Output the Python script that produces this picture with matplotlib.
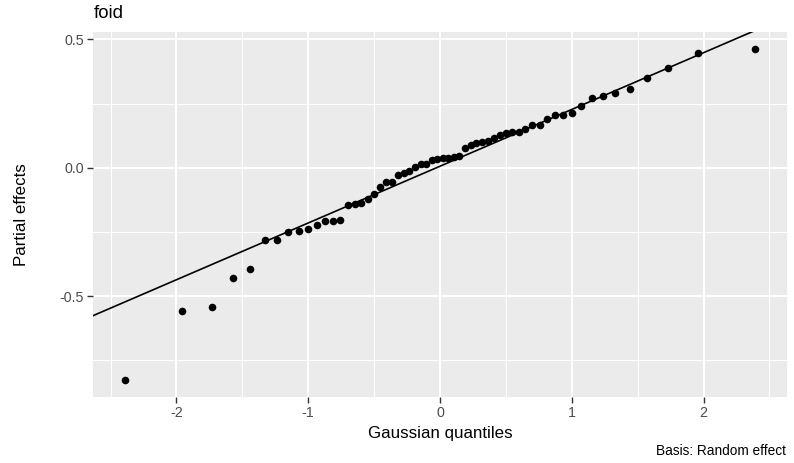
import matplotlib
matplotlib.use("Agg")
import matplotlib.pyplot as plt
from matplotlib.ticker import FixedLocator
from statistics import NormalDist

plt.rcParams['font.family'] = ['Liberation Sans', 'DejaVu Sans']

# Sorted partial effects of the random effect term "foid"
partial_effects = [
    -0.828, -0.557, -0.541, -0.431, -0.395, -0.283, -0.282, -0.251, -0.245, -0.240,
    -0.222, -0.208, -0.206, -0.205, -0.146, -0.143, -0.137, -0.121, -0.102, -0.076,
    -0.057, -0.055, -0.029, -0.020, -0.011, 0.003, 0.015, 0.016, 0.031, 0.034,
    0.037, 0.038, 0.041, 0.045, 0.076, 0.090, 0.097, 0.101, 0.106, 0.116,
    0.128, 0.137, 0.139, 0.141, 0.150, 0.165, 0.168, 0.191, 0.205, 0.205,
    0.212, 0.242, 0.272, 0.279, 0.291, 0.305, 0.349, 0.388, 0.447, 0.464,
]
# Reference line (intercept, slope)
line_intercept = 0.006
line_slope = 0.221

x_ticks = [-2, -1, 0, 1, 2]
y_ticks = [-0.5, 0.0, 0.5]
y_tick_labels = ["-0.5", "0.0", "0.5"]

# Theoretical Gaussian quantiles at plotting positions (i - 0.5) / n
n = len(partial_effects)
nd = NormalDist()
theoretical = [nd.inv_cdf((i + 0.5) / n) for i in range(n)]

fig = plt.figure(figsize=(7.94, 4.63), dpi=100)
ax = fig.add_axes([93 / 794, 1 - 397 / 463, (787 - 93) / 794, (397 - 32) / 463])

ax.set_facecolor("#EBEBEB")
for s in ax.spines.values():
    s.set_visible(False)

# Axis ranges with ggplot-style 5% expansion
xr = (min(theoretical), max(theoretical))
yr = (min(partial_effects), max(partial_effects))
xpad = 0.05 * (xr[1] - xr[0])
ypad = 0.05 * (yr[1] - yr[0])
ax.set_xlim(xr[0] - xpad, xr[1] + xpad)
ax.set_ylim(yr[0] - ypad, yr[1] + ypad)

ax.xaxis.set_major_locator(FixedLocator(x_ticks))
ax.yaxis.set_major_locator(FixedLocator(y_ticks))
ax.xaxis.set_minor_locator(FixedLocator([-2.5, -1.5, -0.5, 0.5, 1.5, 2.5]))
ax.yaxis.set_minor_locator(FixedLocator([-0.75, -0.25, 0.25]))
ax.set_yticklabels(y_tick_labels)
ax.set_xticklabels([str(t) for t in x_ticks])

ax.grid(which="major", color="white", linewidth=1.5)
ax.grid(which="minor", color="white", linewidth=0.75)
ax.set_axisbelow(True)

ax.tick_params(which="major", length=4, width=1.0, color="#333333",
               labelcolor="#4D4D4D", labelsize=10.3, pad=2.5)
ax.tick_params(which="minor", length=0)

# Reference line spanning the panel
x0, x1 = ax.get_xlim()
ax.plot([x0, x1], [line_intercept + line_slope * x0, line_intercept + line_slope * x1],
        color="black", linewidth=1.2, zorder=2)
ax.set_xlim(x0, x1)

ax.scatter(theoretical, partial_effects, s=30, color="black", linewidths=0, zorder=3)

ax.set_xlabel("Gaussian quantiles", fontsize=12.2, color="black", labelpad=4)
ax.set_ylabel("Partial effects", fontsize=12.2, color="black", labelpad=22)

fig.text(94 / 794, 1 - 13 / 463, "foid", fontsize=13.4, color="black",
         ha="left", va="center")
fig.text(786 / 794, 1 - 451 / 463, "Basis: Random effect", fontsize=9.8,
         color="black", ha="right", va="center")

fig.savefig("out.png", dpi=100)
